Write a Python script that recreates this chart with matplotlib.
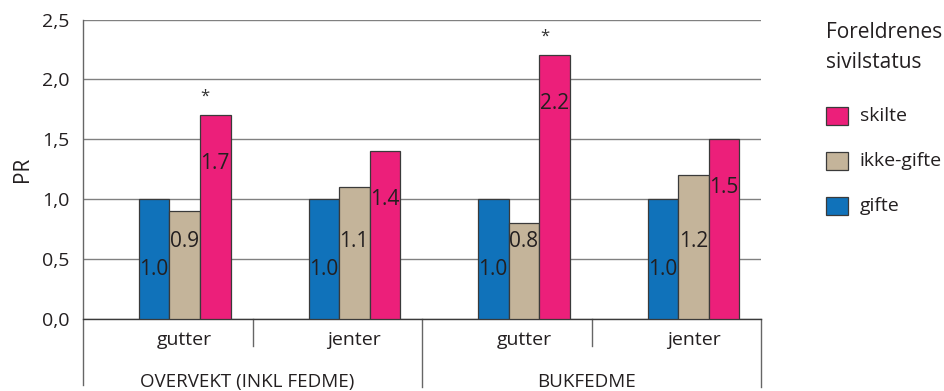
import matplotlib.pyplot as plt
import matplotlib.transforms as mtransforms
from matplotlib.patches import Rectangle

plt.rcParams['font.family'] = ['Open Sans', 'DejaVu Sans']

# PR etter foreldrenes sivilstatus
kategorier = ['gutter', 'jenter', 'gutter', 'jenter']
grupper = ['OVERVEKT (INKL FEDME)', 'BUKFEDME']
gifte = [1.0, 1.0, 1.0, 1.0]
ikke_gifte = [0.9, 1.1, 0.8, 1.2]
skilte = [1.7, 1.4, 2.2, 1.5]
signifikant = [True, False, True, False]  # stjerne over skilte
yticks = [0.0, 0.5, 1.0, 1.5, 2.0, 2.5]
legend_tittel = ['Foreldrenes', 'sivilstatus']
legend_navn = ['skilte', 'ikke-gifte', 'gifte']

farger = {'gifte': '#1072BA', 'ikke-gifte': '#C4B49A', 'skilte': '#EC1F7A'}
tekst = '#231f20'
W, H = 945, 391

fig = plt.figure(figsize=(9.45, 3.91), dpi=100)
ax = fig.add_axes([0.0878, 0.184, 0.718, 0.766])

bredde = 0.18
forskyv = 0.1
x = list(range(len(kategorier)))
serier = [('gifte', gifte, 0.41), ('ikke-gifte', ikke_gifte, 0.65),
          ('skilte', skilte, None)]
for k, (navn, verdier, ly) in enumerate(serier):
    pos = [i + forskyv + (k - 1) * bredde for i in x]
    ax.bar(pos, verdier, width=bredde, color=farger[navn],
           edgecolor='#3a3a3a', linewidth=0.9, zorder=3)
    for p, v in zip(pos, verdier):
        y = ly if ly is not None else v - 0.4
        ax.text(p - bredde / 2 + 0.002, y, f'{v:.1f}', ha='left', va='center',
                fontsize=15, color=tekst, zorder=4)

for i, sig in enumerate(signifikant):
    if sig:
        ax.text(i + 0.22, skilte[i] + 0.16, '*', ha='center', va='center',
                fontsize=12, color='#333333')

ax.set_xlim(-0.5, 3.5)
ax.set_ylim(0, 2.5)
ax.set_yticks(yticks)
ax.set_yticklabels([f'{t:.1f}'.replace('.', ',') for t in yticks],
                   fontsize=14, color=tekst)
ax.set_xticks([])
ax.tick_params(axis='y', length=0, pad=10)
ax.grid(axis='y', color='#808080', linewidth=1.0, zorder=0)
for s in ['top', 'right', 'left']:
    ax.spines[s].set_visible(False)
ax.spines['bottom'].set_color('#3a3a3a')
ax.spines['bottom'].set_linewidth(1.0)
ax.set_ylabel('PR', fontsize=15, labelpad=6, color=tekst)

trans = mtransforms.blended_transform_factory(ax.transData, ax.transAxes)
# venstre akse forlenget nedover
ax.plot([-0.5, -0.5], [1.0, -0.22], transform=trans, color='#666666',
        linewidth=1.0, clip_on=False)
for b in [0.5, 2.5]:
    ax.plot([b, b], [0, -0.09], transform=trans, color='#666666',
            linewidth=1.0, clip_on=False)
for b in [1.5, 3.5]:
    ax.plot([b, b], [0, -0.227], transform=trans, color='#666666',
            linewidth=1.0, clip_on=False)
for i, k in enumerate(kategorier):
    ax.text(i + forskyv, -0.07, k, transform=trans, ha='center', va='center',
            fontsize=14, color=tekst)
for j, g in enumerate(grupper):
    ax.text(j * 2 + 0.47, -0.21, g, transform=trans, ha='center', va='center',
            fontsize=13.5, color=tekst)

# legende
for j, linje in enumerate(legend_tittel):
    fig.text(826 / W, 1 - (32 + 30 * j) / H, linje, ha='left', va='center',
             fontsize=15, color=tekst)
for j, navn in enumerate(legend_navn):
    yc = 116 + 45 * j
    fig.add_artist(Rectangle((826 / W, 1 - (yc + 9) / H), 22 / W, 18 / H,
                             transform=fig.transFigure, facecolor=farger[navn],
                             edgecolor='#3a3a3a', linewidth=0.9))
    fig.text(860 / W, 1 - yc / H, navn, ha='left', va='center',
             fontsize=14, color=tekst)

fig.savefig('out.png', dpi=100)
